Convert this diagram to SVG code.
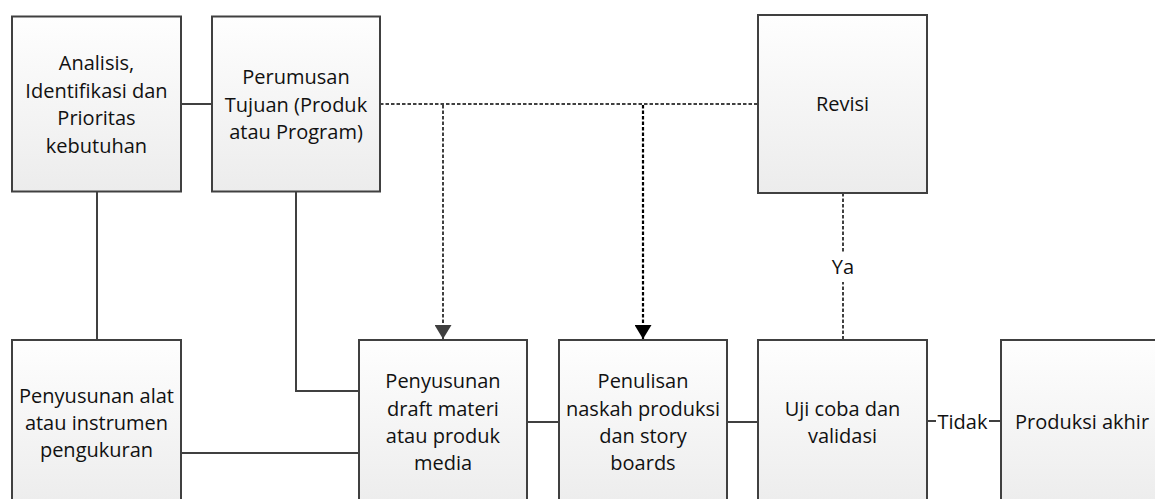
<svg xmlns="http://www.w3.org/2000/svg" width="1155" height="499" viewBox="0 0 1155 499">
<style>
.box{fill:url(#g);stroke:#404040;stroke-width:2}
.t{font-family:"Open Sans","Noto Sans",sans-serif;font-size:20px;fill:#111;text-anchor:middle}
.c{fill:none;stroke:#404040;stroke-width:2}
.d{fill:none;stroke:#404040;stroke-width:2;stroke-dasharray:3.5 2}
.dk{fill:none;stroke:#000;stroke-width:2.2;stroke-dasharray:3.5 2}
</style>
<defs>
<linearGradient id="g" x1="0" y1="0" x2="0" y2="1">
<stop offset="0" stop-color="#fefefe"/>
<stop offset="1" stop-color="#ececec"/>
</linearGradient>
<marker id="ag" markerUnits="userSpaceOnUse" markerWidth="14" markerHeight="17" viewBox="0 0 14 17" refX="14" refY="8.5" orient="auto">
<path d="M0,0 L14,8.5 L0,17 z" fill="#404040"/>
</marker>
<marker id="ab" markerUnits="userSpaceOnUse" markerWidth="14" markerHeight="17" viewBox="0 0 14 17" refX="14" refY="8.5" orient="auto">
<path d="M0,0 L14,8.5 L0,17 z" fill="#000"/>
</marker>
</defs>
<g id="connectors">
<line class="c" x1="181" y1="104" x2="212" y2="104"/>
<line class="c" x1="97" y1="191" x2="97" y2="340"/>
<path class="c" d="M296,191 V391 H359"/>
<line class="c" x1="181" y1="453" x2="359" y2="453"/>
<line class="c" x1="527" y1="422" x2="559" y2="422"/>
<line class="c" x1="727" y1="422" x2="758" y2="422"/>
<line class="c" x1="927" y1="421" x2="1001" y2="421"/>
<rect x="936" y="408" width="53" height="26" fill="#fff"/>
<text class="t" x="962.5" y="429">Tidak</text>
<line class="d" x1="380" y1="104" x2="758" y2="104"/>
<line class="d" x1="443" y1="105" x2="443" y2="339" marker-end="url(#ag)"/>
<line class="dk" x1="643" y1="105" x2="643" y2="339" marker-end="url(#ab)"/>
<line class="d" x1="843" y1="193" x2="843" y2="340"/>
<rect x="830" y="252" width="26" height="30" fill="#fff"/>
<text class="t" x="843" y="274">Ya</text>
</g>
<g id="n1">
<rect class="box" x="12" y="16.5" width="169" height="175"/>
<text class="t" x="96.5" y="70">Analisis,</text>
<text class="t" x="96.5" y="97.5">Identifikasi dan</text>
<text class="t" x="96.5" y="125">Prioritas</text>
<text class="t" x="96.5" y="152.5">kebutuhan</text>
</g>
<g id="n2">
<rect class="box" x="212" y="16.5" width="168" height="175"/>
<text class="t" x="296" y="84">Perumusan</text>
<text class="t" x="296" y="111.5">Tujuan (Produk</text>
<text class="t" x="296" y="139">atau Program)</text>
</g>
<g id="n3">
<rect class="box" x="758" y="15" width="169" height="178"/>
<text class="t" x="842.5" y="111">Revisi</text>
</g>
<g id="n4">
<rect class="box" x="12" y="340" width="169" height="170"/>
<text class="t" x="96.5" y="403">Penyusunan alat</text>
<text class="t" x="96.5" y="430">atau instrumen</text>
<text class="t" x="96.5" y="457">pengukuran</text>
</g>
<g id="n5">
<rect class="box" x="359" y="340" width="168" height="170"/>
<text class="t" x="443" y="388">Penyusunan</text>
<text class="t" x="443" y="416">draft materi</text>
<text class="t" x="443" y="443">atau produk</text>
<text class="t" x="443" y="470">media</text>
</g>
<g id="n6">
<rect class="box" x="559" y="340" width="168" height="170"/>
<text class="t" x="643" y="388">Penulisan</text>
<text class="t" x="643" y="416">naskah produksi</text>
<text class="t" x="643" y="443">dan story</text>
<text class="t" x="643" y="470">boards</text>
</g>
<g id="n7">
<rect class="box" x="758" y="340" width="169" height="170"/>
<text class="t" x="842.5" y="416">Uji coba dan</text>
<text class="t" x="842.5" y="443">validasi</text>
</g>
<g id="n8">
<rect class="box" x="1001" y="340" width="168" height="170"/>
<text class="t" x="1082" y="429">Produksi akhir</text>
</g>
</svg>
